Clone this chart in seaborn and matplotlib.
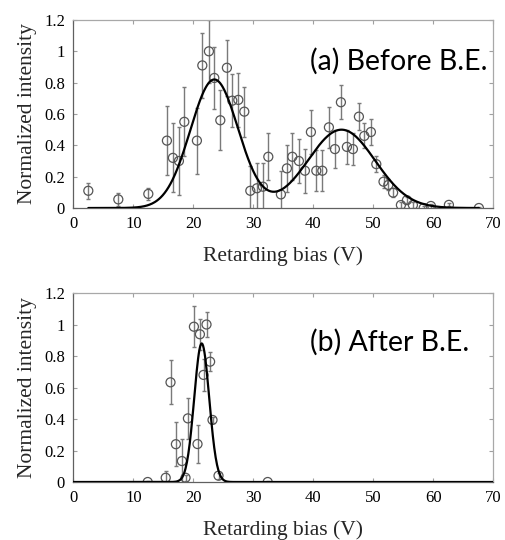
import numpy as np
import pandas as pd
import matplotlib
matplotlib.use("Agg")
import matplotlib.pyplot as plt
import seaborn as sns

# ---- data ----
x_before = [2.5, 7.5, 12.5, 15.6, 16.6, 17.6, 18.5, 20.6, 21.5, 22.6, 23.5, 24.5,
            25.6, 26.5, 27.5, 28.5, 29.5, 30.6, 31.6, 32.5, 34.6, 35.6, 36.5, 37.6,
            38.6, 39.6, 40.5, 41.5, 42.6, 43.6, 44.6, 45.6, 46.6, 47.6, 48.5, 49.6,
            50.5, 51.7, 52.5, 53.3, 54.6, 55.6, 56.6, 58.4, 59.6, 62.6, 67.6]
y_before = [0.11, 0.055, 0.09, 0.43, 0.32, 0.30, 0.55, 0.43, 0.91, 1.00, 0.83, 0.56,
            0.895, 0.685, 0.69, 0.615, 0.11, 0.126, 0.136, 0.327, 0.087, 0.253, 0.327, 0.30,
            0.238, 0.485, 0.238, 0.238, 0.515, 0.376, 0.675, 0.39, 0.376, 0.583, 0.46, 0.485,
            0.28, 0.168, 0.147, 0.098, 0.019, 0.05, 0.019, 0.0, 0.013, 0.02, 0.0]
err_before = [0.05, 0.04, 0.04, 0.22, 0.22, 0.22, 0.22, 0.21, 0.21, 0.20, 0.20, 0.19,
              0.18, 0.17, 0.17, 0.16, 0.16, 0.16, 0.15, 0.15, 0.15, 0.15, 0.15, 0.14,
              0.14, 0.14, 0.13, 0.13, 0.13, 0.12, 0.11, 0.11, 0.10, 0.085, 0.08, 0.08,
              0.05, 0.04, 0.035, 0.03, 0.02, 0.02, 0.02, 0.01, 0.01, 0.01, 0.005]

x_after = [12.4, 15.4, 16.2, 17.1, 18.1, 18.7, 19.1, 20.1, 20.7, 21.1, 21.7, 22.2,
           22.8, 23.2, 24.2, 32.4]
y_after = [0.0, 0.027, 0.633, 0.24, 0.133, 0.027, 0.404, 0.986, 0.241, 0.938, 0.68, 1.0,
           0.764, 0.394, 0.04, 0.0]
err_after = [0.005, 0.04, 0.14, 0.14, 0.14, 0.02, 0.13, 0.13, 0.12, 0.10, 0.10, 0.08,
             0.06, 0.02, 0.02, 0.005]

# Gaussian fit parameters
fit_before_amp = [0.82, 0.50]
fit_before_center = [23.5, 44.7]
fit_before_sigma = [4.0, 5.6]
fit_before_range = [2.5, 67.6]

fit_after_amp = [0.88]
fit_after_center = [21.4]
fit_after_sigma = [1.25]
fit_after_range = [0.0, 70.0]

panel_labels = ["(a) Before B.E.", "(b) After B.E."]
xticks = [0, 10, 20, 30, 40, 50, 60, 70]
yticks = [0, 0.2, 0.4, 0.6, 0.8, 1.0, 1.2]
ytick_labels = ["0", "0.2", "0.4", "0.6", "0.8", "1", "1.2"]


def fit_curve(amps, centers, sigmas, xr):
    xs = np.linspace(xr[0], xr[1], 600)
    ys = np.zeros_like(xs)
    for a, c, s in zip(amps, centers, sigmas):
        ys += a * np.exp(-(xs - c) ** 2 / (2 * s ** 2))
    return pd.DataFrame({"x": xs, "y": ys})


sns.set_theme(style="ticks")
plt.rcParams["font.family"] = ["Liberation Serif", "DejaVu Serif"]

fig = plt.figure(figsize=(5.06, 5.40), dpi=100)
ax_a = fig.add_axes([0.1449, 0.6148, 0.8300, 0.3482])
ax_b = fig.add_axes([0.1449, 0.1074, 0.8300, 0.3500])

panels = [
    (ax_a, x_before, y_before, err_before,
     fit_curve(fit_before_amp, fit_before_center, fit_before_sigma, fit_before_range),
     panel_labels[0], 0.78),
    (ax_b, x_after, y_after, err_after,
     fit_curve(fit_after_amp, fit_after_center, fit_after_sigma, fit_after_range),
     panel_labels[1], 0.74),
]

for ax, xs, ys, es, curve, label, ty in panels:
    ax.errorbar(xs, ys, yerr=es, fmt="none", ecolor="#7a7a7a", elinewidth=1.0,
                capsize=1.6, capthick=1.0, zorder=2)
    sns.scatterplot(x=xs, y=ys, ax=ax, marker="o", s=42, facecolors="none",
                    edgecolor="#555555", linewidth=0.9, zorder=3)
    sns.lineplot(data=curve, x="x", y="y", ax=ax, color="black", linewidth=1.6,
                 zorder=4)
    ax.set_xlim(0, 70)
    ax.set_ylim(0, 1.2)
    ax.set_xticks(xticks)
    ax.set_xticklabels([str(t) for t in xticks])
    ax.set_yticks(yticks)
    ax.set_yticklabels(ytick_labels)
    ax.tick_params(direction="in", length=3, width=0.8, color="#a0a0a0",
                   top=True, right=True, labelsize=12, pad=6, labelcolor="black")
    for sp in ax.spines.values():
        sp.set_color("#a8a8a8")
        sp.set_linewidth(0.9)
    ax.spines["left"].set_color("#606060")
    ax.spines["bottom"].set_color("#606060")
    ax.set_xlabel("Retarding bias (V)", fontsize=15.5, labelpad=10)
    ax.set_ylabel("Normalized intensity", fontsize=15.5, labelpad=5)
    ax.text(0.5636, ty, label, transform=ax.transAxes, ha="left", va="center",
            fontsize=20.5, family=["Lato", "DejaVu Sans"], color="black")

fig.savefig("out.png", dpi=100)
